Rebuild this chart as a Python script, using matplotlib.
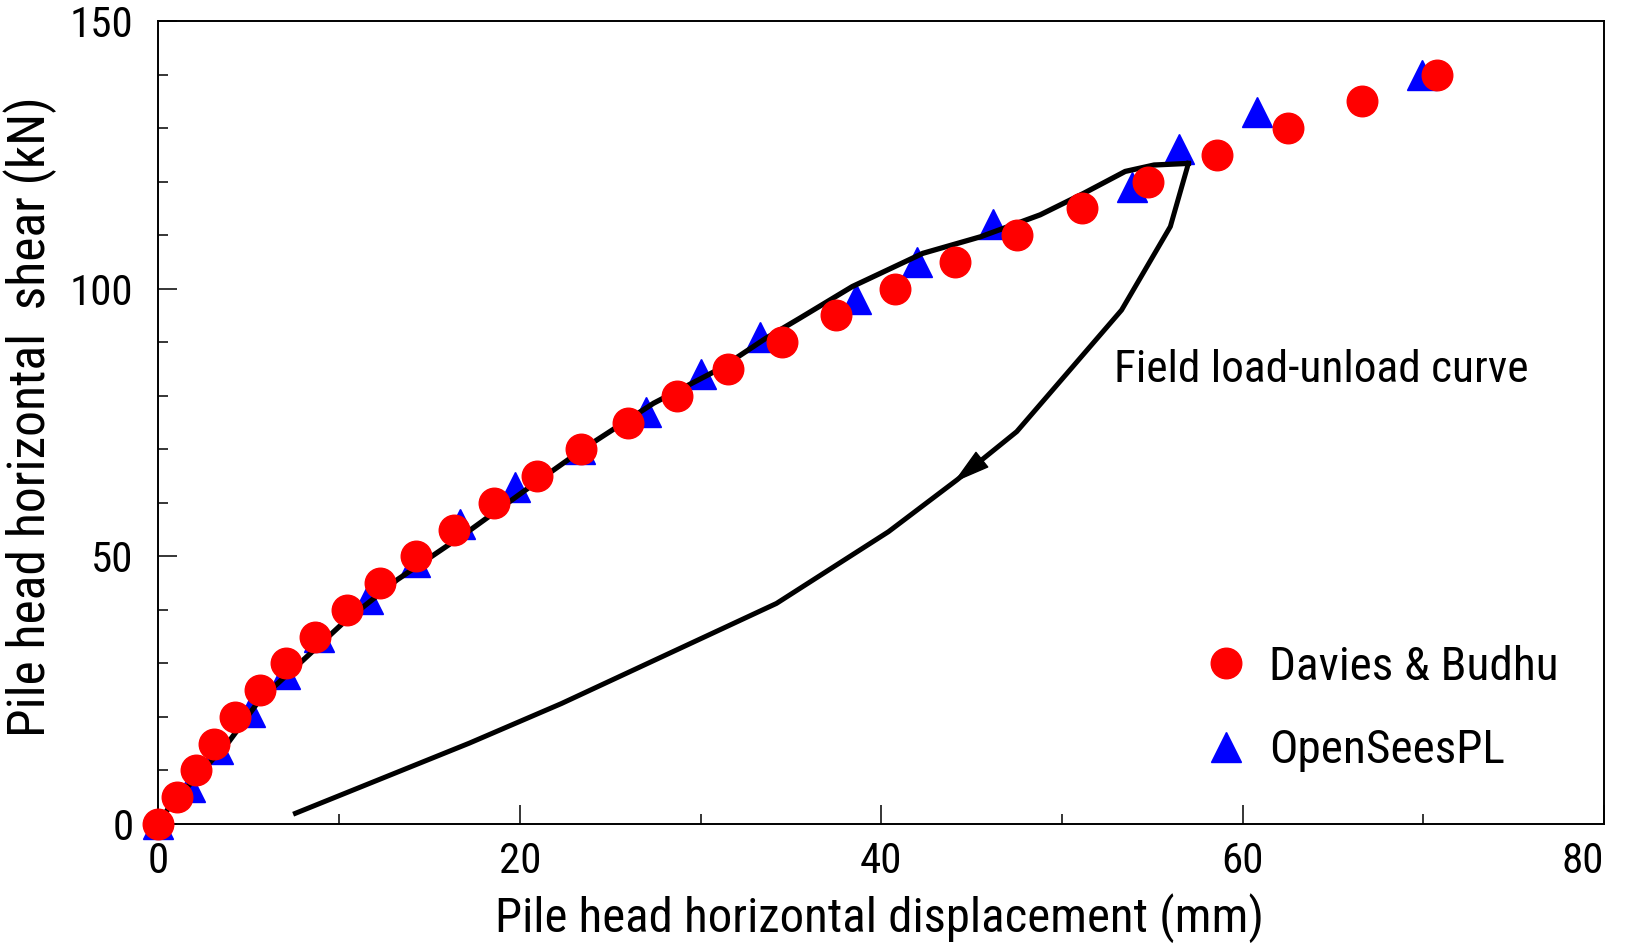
import matplotlib
matplotlib.use("Agg")
import matplotlib.pyplot as plt
from matplotlib import font_manager
from matplotlib.ticker import MultipleLocator, FuncFormatter
from matplotlib.transforms import ScaledTranslation

# ---------------- data ----------------
db_x = [0, 1.03, 2.05, 3.05, 4.25, 5.59, 7.07, 8.68, 10.45, 12.28, 14.27, 16.35,
        18.59, 20.93, 23.37, 25.97, 28.68, 31.52, 34.48, 37.52, 40.75, 44.08,
        47.53, 51.09, 54.78, 58.57, 62.53, 66.6, 70.75]
db_y = [0, 5, 10, 15, 20, 25, 30, 35, 40, 45, 50, 55, 60, 65, 70, 75, 80, 85,
        90, 95, 100, 105, 110, 115, 120, 125, 130, 135, 140]

os_x = [0, 1.72, 3.28, 5.04, 6.98, 8.91, 11.59, 14.17, 16.67, 19.71, 23.3, 27.0,
        30.05, 33.28, 38.6, 42.0, 46.2, 53.9, 56.5, 60.8, 69.9]
os_y = [0, 7, 14, 21, 28, 35, 42, 49, 56, 63, 70, 77, 84, 91, 98, 105, 112, 119,
        126, 133, 140]

load_x = [0, 0.6, 2.3, 3.9, 5.6, 8.0, 10.2, 13.2, 17.0, 21.1, 23.7, 27.4, 31.1,
          33.6, 35.5, 38.4, 42.3, 45.5, 48.8, 51.2, 53.5, 55.1, 57.0]
load_y = [0, 3.2, 9.5, 15.4, 23.2, 30.6, 37.5, 45.6, 54.3, 64.3, 70.5, 78.6, 85.1,
          90.7, 94.5, 100.4, 106.6, 109.7, 113.8, 117.8, 121.9, 123.1, 123.4]

unload_x = [57.0, 56.0, 53.3, 47.5, 44.2, 40.4, 34.2, 22.3, 17.2, 7.58]
unload_y = [123.4, 111.6, 96.0, 73.3, 64.3, 54.6, 41.2, 22.5, 15.1, 2.0]

arrow_tail = (47.5, 73.3)
arrow_tip = (44.0, 63.8)

labels = ["Davies & Budhu", "OpenSeesPL"]
annot_text = "Field load-unload curve"
xlabel = "Pile head horizontal displacement (mm)"
ylabel = "Pile head horizontal  shear (kN)"
x_last_tick = 80

# ---------------- fonts ----------------
names = {f.name for f in font_manager.fontManager.ttflist}
prefs = ["Liberation Sans Narrow", "Arial Narrow", "Roboto Condensed",
         "Archivo Narrow", "IBM Plex Sans Condensed", "Liberation Sans"]
fam = [p for p in prefs if p in names][:1] + ["Liberation Sans", "DejaVu Sans"]
plt.rcParams["font.family"] = fam

# ---------------- figure ----------------
fig = plt.figure(figsize=(16.33, 9.52), dpi=100)
ax = fig.add_axes([158.5 / 1633, 128 / 952, 1445.5 / 1633, 803 / 952])

ax.plot(load_x, load_y, color="black", lw=3.8, zorder=3, solid_joinstyle="round")
ax.plot(unload_x, unload_y, color="black", lw=3.6, zorder=3, solid_joinstyle="round")
ax.annotate("", xy=arrow_tip, xytext=arrow_tail,
            arrowprops=dict(arrowstyle="-|>,head_length=0.9,head_width=0.25",
                            mutation_scale=27, color="black", lw=1,
                            shrinkA=0, shrinkB=0), zorder=4)

ax.plot(os_x, os_y, linestyle="none", marker="^", ms=22, color="#0000FF",
        mec="#0000FF", zorder=2, clip_on=False, label=labels[1])
ax.plot(db_x, db_y, linestyle="none", marker="o", ms=22, color="#FF0000",
        mec="#FF0000", zorder=5, clip_on=False, label=labels[0])

ax.text(52.9, 82.5, annot_text, fontsize=32.7, ha="left", va="baseline")

ax.set_xlim(0, 80)
ax.set_ylim(0, 150)
ax.xaxis.set_major_locator(MultipleLocator(20))
ax.xaxis.set_minor_locator(MultipleLocator(10))
ax.yaxis.set_major_locator(MultipleLocator(50))
ax.yaxis.set_minor_locator(MultipleLocator(10))
ax.xaxis.set_major_formatter(
    FuncFormatter(lambda v, p: "" if abs(v - x_last_tick) < 1e-9 else f"{v:g}"))
ax.tick_params(which="both", direction="in", top=False, right=False,
               width=1.1, color="black")
ax.tick_params(which="major", length=13.4, labelsize=31)
ax.tick_params(axis="x", which="major", pad=12)
ax.tick_params(axis="y", which="major", pad=18)
ax.tick_params(which="minor", length=7.2)
for s in ax.spines.values():
    s.set_linewidth(1.4)

# last x tick label, right-aligned to the axis end as in the original
ax.text(x_last_tick, 0, f"{x_last_tick:g}", fontsize=31, ha="right", va="top",
        transform=ax.get_xaxis_transform()
        + ScaledTranslation(0, -12 / 72, fig.dpi_scale_trans))

ax.set_xlabel(xlabel, fontsize=35.2)
ax.set_ylabel(ylabel, fontsize=37.2)
ax.xaxis.set_label_coords(0.499, -0.086)
ax.yaxis.set_label_coords(-0.07, 0.5075)

h, l = ax.get_legend_handles_labels()
order = [1, 0]
ax.legend([h[i] for i in order], [l[i] for i in order], loc="center left",
          bbox_to_anchor=(0.7222, 0.1437), frameon=False, fontsize=34,
          handlelength=1.0, handletextpad=0.42, labelspacing=0.84,
          borderpad=0, borderaxespad=0, numpoints=1)

fig.savefig("out.png", dpi=100)
